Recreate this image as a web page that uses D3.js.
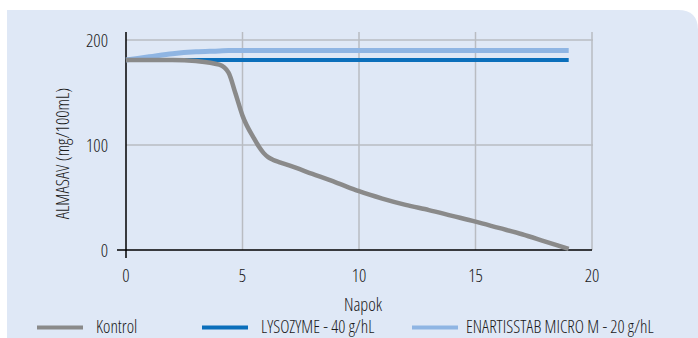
<!DOCTYPE html>
<html><head><meta charset="utf-8">
<script src="https://cdn.jsdelivr.net/npm/d3@7"></script>
<style>
html,body{margin:0;padding:0;background:#fff;}
text{font-family:"Open Sans","Liberation Sans Narrow",sans-serif;font-stretch:75%;font-weight:350;fill:#1a1a1a;}
</style></head>
<body><svg id="c" width="698" height="338"></svg>
<script>
const days = [0,1,2,3,4,4.4,4.7,5,5.5,5.7,5.9,6.1,6.3,6.6,7,8,9,10,11,12,13,14,15,16,17,18,19];
const kontrol = [181,181,181,180,176.5,169,149,128,106,98.5,92.5,88.5,86,83.5,80.5,72.5,64.5,56,49,43,38,32.5,27,21,15,8,1];
const lysozyme = days.map(()=>181);
const enartisstab = [181,184,187,188.8,189.6,190,190,190,190,190,190,190,190,190,190,190,190,190,190,190,190,190,190,190,190,190,190];
const xTicks = [0,5,10,15,20];
const yTicks = [0,100,200];
const seriesNames = ["Kontrol","LYSOZYME - 40 g/hL","ENARTISSTAB MICRO M - 20 g/hL"];
const seriesColors = ["#8a8a8a","#0b6fbb","#8fb5e3"];
const xLabel = "Napok";
const yLabel = "ALMASAV (mg/100mL)";

const svg = d3.select("#c");
const bx=7, by=10, bw=698-7, bh=338-10, r=20;
svg.append("path")
  .attr("d", `M${bx},${by} H${bx+bw-r} Q${bx+bw},${by} ${bx+bw},${by+r} V${by+bh} H${bx} Z`)
  .attr("fill","#dfe8f6");

const x = d3.scaleLinear().domain([0,20]).range([126,592]);
const y = d3.scaleLinear().domain([0,200]).range([250,40]);

const g = svg.append("g");
g.selectAll(".vg").data(xTicks.filter(d=>d>0)).join("line")
  .attr("x1",d=>x(d)).attr("x2",d=>x(d)).attr("y1",32).attr("y2",y(0))
  .attr("stroke","#b9bcc2").attr("stroke-width",1.5);
g.selectAll(".hg").data(yTicks.filter(d=>d>0)).join("line")
  .attr("x1",x(0)).attr("x2",x(20)+1).attr("y1",d=>y(d)).attr("y2",d=>y(d))
  .attr("stroke","#b9bcc2").attr("stroke-width",1.5);

g.append("line").attr("x1",x(0)).attr("x2",x(0)).attr("y1",32).attr("y2",258)
  .attr("stroke","#000").attr("stroke-width",1.5);
g.append("line").attr("x1",117).attr("x2",x(20)).attr("y1",y(0)).attr("y2",y(0))
  .attr("stroke","#000").attr("stroke-width",1.5);

const fs = 18;
g.selectAll(".yt").data(yTicks).join("text")
  .attr("x",108).attr("y",d=>y(d)+6.5).attr("text-anchor","end")
  .attr("font-size",fs).text(d=>d);
g.selectAll(".xt").data(xTicks).join("text")
  .attr("x",d=>x(d)).attr("y",282).attr("text-anchor","middle")
  .attr("font-size",fs).text(d=>d);

svg.append("text").attr("x",363).attr("y",311).attr("text-anchor","middle")
  .attr("font-size",fs).text(xLabel);
svg.append("text").attr("transform","translate(69,153.5) rotate(-90)")
  .attr("text-anchor","middle").attr("font-size",fs).text(yLabel);

const line = d3.line().x((d,i)=>x(days[i])).y(d=>y(d)).curve(d3.curveMonotoneX);
const data = [kontrol,lysozyme,enartisstab];
const widths = [4.5,4,5];
[2,1,0].forEach(i=>{
  svg.append("path").datum(data[i]).attr("d",line)
    .attr("fill","none").attr("stroke",seriesColors[i]).attr("stroke-width",widths[i]);
});

const legX = [37,202,412];
const legTX = [96,261,466];
seriesNames.forEach((n,i)=>{
  svg.append("line").attr("x1",legX[i]).attr("x2",legX[i]+46).attr("y1",327.5).attr("y2",327.5)
    .attr("stroke",seriesColors[i]).attr("stroke-width",4);
  svg.append("text").attr("x",legTX[i]).attr("y",332.5).attr("font-size",17.5).text(n);
});
</script></body></html>
